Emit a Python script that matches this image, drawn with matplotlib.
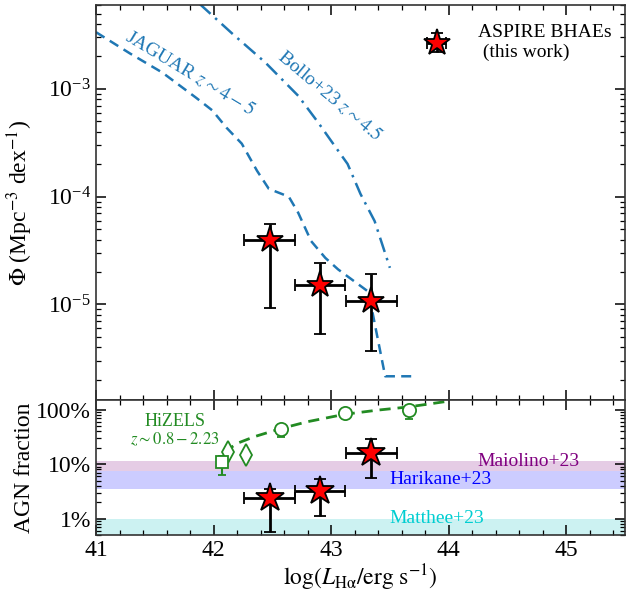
import numpy as np
import matplotlib
matplotlib.use("Agg")
import matplotlib.pyplot as plt
from matplotlib.ticker import MultipleLocator, FixedLocator, FixedFormatter, LogLocator, NullFormatter

plt.rcParams['font.family'] = ['Liberation Serif', 'DejaVu Serif']
plt.rcParams['mathtext.fontset'] = 'stix'
plt.rcParams['font.size'] = 14

# --- ASPIRE BHAEs (this work)
logL = [42.48, 42.905, 43.34]
logL_lo = [42.26, 42.69, 43.125]
logL_hi = [42.69, 43.12, 43.56]
phi = [4.0e-5, 1.53e-5, 1.07e-5]
phi_lo = [9.2e-6, 5.3e-6, 3.7e-6]
phi_hi = [5.6e-5, 2.44e-5, 1.9e-5]
frac = [2.4, 3.2, 16.0]          # percent
frac_lo = [0.56, 1.1, 5.6]
frac_hi = [3.5, 5.4, 29.0]

# --- JAGUAR z~4-5 (dashed)
jag_x = [41.0, 41.29, 41.565, 41.85, 41.99, 42.11, 42.24, 42.37, 42.47, 42.64, 42.72,
         42.83, 42.95, 43.06, 43.31, 43.35, 43.46, 43.72]
jag_logy = [-2.474, -2.672, -2.849, -3.081, -3.20, -3.36, -3.508, -3.76, -3.927, -4.0,
            -4.149, -4.412, -4.567, -4.675, -4.876, -5.062, -5.666, -5.666]

# --- Bollo+23 z~4.5 (dash-dot)
bol_x = [41.88, 42.16, 42.44, 42.72, 42.89, 43.00, 43.14, 43.25, 43.37, 43.50]
bol_logy = [-2.21, -2.488, -2.755, -3.064, -3.312, -3.482, -3.696, -3.975, -4.226, -4.66]

# --- HiZELS z~0.8-2.23
hiz_fit_x = [42.09, 42.2, 42.35, 42.575, 42.8, 43.115, 43.4, 43.66, 44.0]
hiz_fit_y = [16.5, 24.0, 32.0, 45.0, 60.0, 82.0, 98.0, 112.0, 143.0]
hiz_sq_x, hiz_sq_y, hiz_sq_lo, hiz_sq_hi = [42.07], [10.7], [6.2], [14.3]
hiz_dia_x = [42.125, 42.28]
hiz_dia_y = [16.5, 14.7]
hiz_circ_x = [42.575, 43.115, 43.66]
hiz_circ_y = [44.8, 85.0, 98.0]
hiz_circ_lo = [31.0, 85.0, 67.0]

# --- literature bands (percent)
bands = [("Maiolino+23", 7.5, 11.5, "purple", 44.68, 11.0),
         ("Harikane+23", 3.5, 7.5, "blue", 43.93, 5.26),
         ("Matthee+23", 0.1, 1.0, "c", 43.9, 0.99)]

fig = plt.figure(figsize=(6.29, 5.95), dpi=100)
W, H = 629, 595
L, R = 96, 625
ax1 = fig.add_axes([L / W, (H - 400) / H, (R - L) / W, 395 / H])
ax2 = fig.add_axes([L / W, (H - 535) / H, (R - L) / W, 135 / H])

blue = '#1f77b4'
ax1.plot(jag_x, 10 ** np.array(jag_logy), ls=(0, (4, 2.5)), color=blue, lw=1.8)
ax1.plot(bol_x, 10 ** np.array(bol_logy), ls=(0, (6, 2.5, 1, 2.5)), color=blue, lw=1.8)

xerr = [np.array(logL) - np.array(logL_lo), np.array(logL_hi) - np.array(logL)]
yerr = [np.array(phi) - np.array(phi_lo), np.array(phi_hi) - np.array(phi)]
eb = ax1.errorbar(logL, phi, xerr=xerr, yerr=yerr, fmt='*', ms=20, mfc='red', mec='k',
                  mew=1.3, ecolor='k', elinewidth=2, capsize=4, capthick=2,
                  label='ASPIRE BHAEs\n (this work)', zorder=5)
ax1.legend(loc='upper right', frameon=False, fontsize=14, markerscale=1.0,
           handlelength=1.2, handletextpad=1.5, bbox_to_anchor=(1.007, 0.995))

ax1.text(41.8, 1.4e-3, r"JAGUAR $z\sim4-5$", color=blue, rotation=-31, fontsize=14,
         ha='center', va='center', rotation_mode='anchor')
ax1.text(42.99, 8.6e-4, r"Bollo+23 $z\sim4.5$", color=blue, rotation=-40, fontsize=14,
         ha='center', va='center', rotation_mode='anchor')

ax1.set_yscale('log')
ax1.set_xlim(41, 45.5)
ax1.set_ylim(1.3e-6, 6e-3)
ax1.set_ylabel(r"$\Phi$ (Mpc$^{-3}$ dex$^{-1}$)", fontsize=17)
ax1.tick_params(labelbottom=False)

# bottom panel
for name, lo, hi, c, tx, ty in bands:
    ax2.axhspan(lo, hi, color=c, alpha=0.2, lw=0)
    ax2.text(tx, ty, name, color=c if c != 'c' else 'darkturquoise', fontsize=14,
             ha='center', va='center')

green = 'forestgreen'
ax2.plot(hiz_fit_x, hiz_fit_y, ls=(0, (4, 2.5)), color=green, lw=2)
ax2.errorbar(hiz_sq_x, hiz_sq_y,
             yerr=[np.array(hiz_sq_y) - np.array(hiz_sq_lo), np.array(hiz_sq_hi) - np.array(hiz_sq_y)],
             fmt='s', ms=9, mfc='white', mec=green, ecolor=green, mew=1.3, capsize=3, elinewidth=1.5)
ax2.plot(hiz_dia_x, hiz_dia_y, 'd', ms=11, mfc='white', mec=green, mew=1.3)
ax2.errorbar(hiz_circ_x, hiz_circ_y,
             yerr=[np.array(hiz_circ_y) - np.array(hiz_circ_lo), np.zeros(3)],
             fmt='o', ms=9.5, mfc='white', mec=green, ecolor=green, mew=1.3, capsize=3, elinewidth=1.5)
ax2.text(41.675, 60, "HiZELS", color=green, fontsize=13, ha='center', va='center')
ax2.text(41.67, 28, r"$z\sim0.8-2.23$", color=green, fontsize=12, ha='center', va='center')

yerr2 = [np.array(frac) - np.array(frac_lo), np.array(frac_hi) - np.array(frac)]
ax2.errorbar(logL, frac, xerr=xerr, yerr=yerr2, fmt='*', ms=21, mfc='red', mec='k',
             mew=1.3, ecolor='k', elinewidth=2, capsize=4, capthick=2, zorder=5)

ax2.set_yscale('log')
ax2.set_xlim(41, 45.5)
ax2.set_ylim(0.5, 150)
ax2.yaxis.set_major_locator(FixedLocator([1, 10, 100]))
ax2.yaxis.set_major_formatter(FixedFormatter(["1%", "10%", "100%"]))
ax2.yaxis.set_minor_locator(LogLocator(base=10, subs=np.arange(2, 10)))
ax2.yaxis.set_minor_formatter(NullFormatter())
ax2.set_ylabel("AGN fraction", fontsize=17)
ax2.set_xlabel(r"$\log(L_{\rm H\alpha}/{\rm erg\ s}^{-1})$", fontsize=17, labelpad=1)

for ax in (ax1, ax2):
    ax.xaxis.set_major_locator(MultipleLocator(1))
    ax.xaxis.set_minor_locator(MultipleLocator(0.2))
    ax.tick_params(which='both', direction='in', top=True, right=True, labelsize=17)
    ax.tick_params(which='major', length=7, width=1.1)
    ax.tick_params(which='minor', length=3.5, width=0.9)
    for s in ax.spines.values():
        s.set_linewidth(1.2)
        s.set_color('#333333')
ax1.yaxis.set_label_coords(-0.115, 0.5)
ax2.yaxis.set_label_coords(-0.115, 0.5)

fig.savefig("out.png", dpi=100)
